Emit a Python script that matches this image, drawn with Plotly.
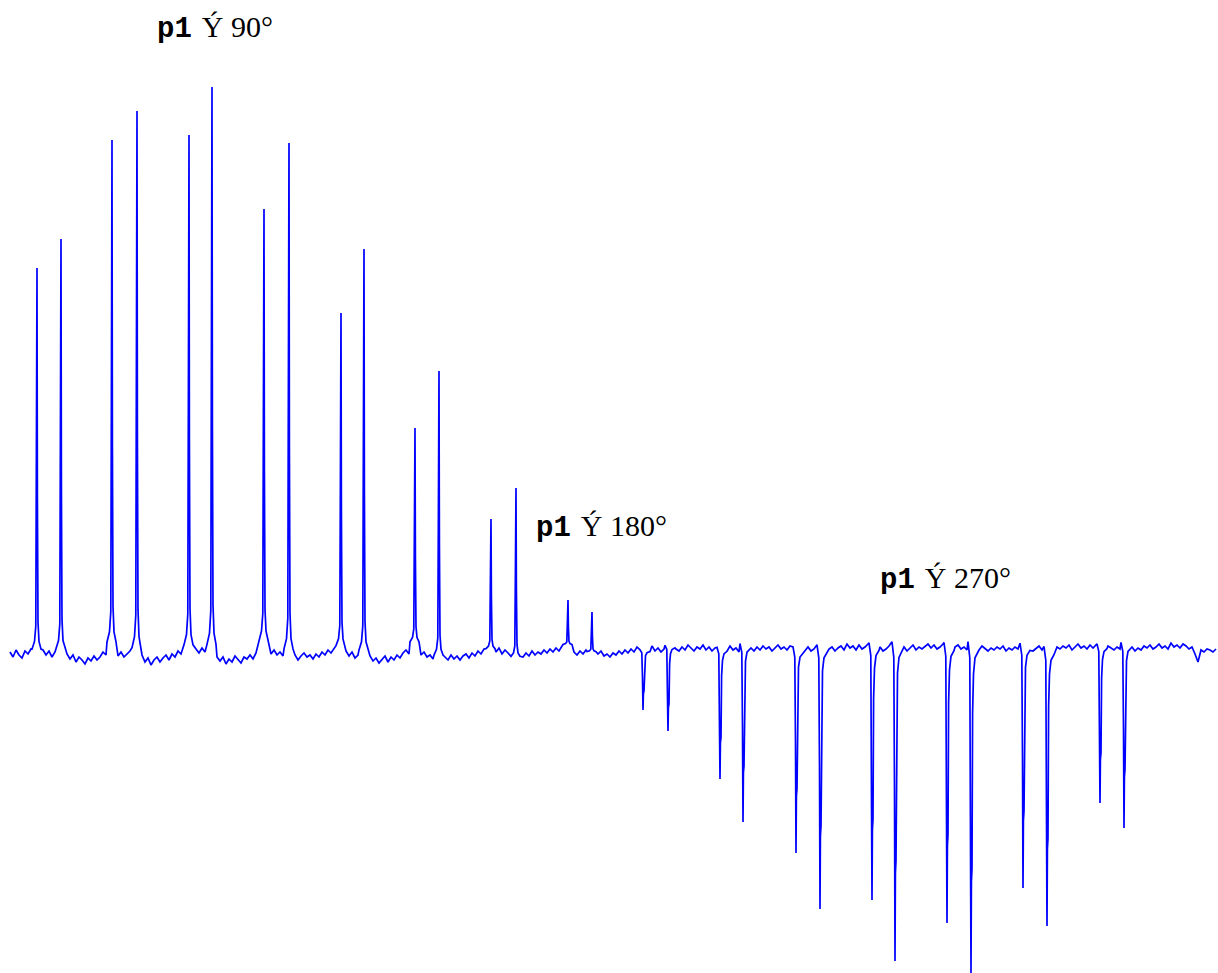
import numpy as np
import plotly.graph_objects as go

# ---------------- data ----------------
# baseline noise samples (intensity units), starting at point 10, every 3 points
BASE_X0 = 10
BASE_STEP = 3
baseline_noise = [
    1, -4, 3, -2, -5, 2, -1, 4, -3, 0,
    6, 3, -2, 2, -4, 1, -3, 0, 3, -1,
    -6, -2, -9, -4, -7, -11, -5, -8, -3, -7,
    -4, 1, -2, 4, 6, 2, -3, 1, -4, -1,
    2, -3, 0, -6, -2, -9, -5, -12, -7, -4,
    -9, -5, -2, -7, -1, -4, 2, -1, 5, 8,
    3, -1, 4, 0, 5, 1, -2, 3, -1, -4,
    -8, -4, -11, -6, -9, -3, -7, -10, -4, -6,
    -2, -6, 0, 4, 2, 9, 6, -1, 3, -2,
    1, -3, 2, -1, -5, -2, -7, -3, 0, -4,
    -2, -6, -1, -4, 1, -2, 3, 0, 5, 8,
    4, -1, 2, -3, 1, -5, -2, 3, -1, -6,
    -3, -8, -5, -10, -6, -3, -9, -4, -7, -2,
    -5, 0, 3, -1, 6, 9, 2, -2, 1, -4,
    -2, -6, -1, -5, -9, -4, -7, -2, -6, -3,
    -7, -3, -1, -5, 0, -3, 2, -1, 4, 1,
    3, 6, 1, 5, -1, 3, 0, 4, -2, -5,
    -1, -4, 0, -3, 2, -2, 1, -1, 3, 0,
    4, 1, 5, 2, 7, 3, 8, 5, 1, -2,
    2, -1, 3, 6, 1, 4, -1, 2, -3, -1,
    -4, 0, -2, 2, -1, 3, 0, 4, 1, 6,
    5, 2, 6, 3, 7, 2, 5, 1, 4, 6,
    3, 7, 4, 2, 6, 3, 8, 5, 2, 6,
    4, 8, 3, 6, 2, 5, 7, 3, 6, 4,
    7, 3, 5, 1, 6, 4, 8, 5, 2, 6,
    3, 7, 4, 6, 2, 5, 8, 4, 6, 3,
    7, 4, 2, 5, 8, 3, 6, 2, 4, 7,
    3, 5, 8, 4, 6, 2, 5, 7, 3, 9,
    5, 7, 3, 8, 4, 6, 9, 5, 7, 3,
    6, 2, 4, 7, 3, 5, 8, 4, 6, 2,
    5, 8, 3, 6, 4, 7, 9, 5, 8, 4,
    6, 9, 5, 7, 3, 6, 8, 4, 6, 3,
    5, 2, 6, 3, 7, 4, 2, 5, 3, 6,
    4, 7, 2, 5, 3, 6, 4, 8, 5, 3,
    6, 2, 5, 7, 3, 4, 1, 5, 3, 6,
    4, 7, 5, 8, 3, 6, 9, 5, 7, 4,
    8, 5, 9, 6, 10, 4, 7, 5, 3, 6,
    4, 7, 5, 3, 6, 2, 5, 3, 7, 5,
    8, 4, 6, 9, 5, 7, 4, 10, 6, 8,
    5, 9, 7, 4, 6, -1, -9, 3, 1, 4,
    3, 1, 4,
]

# positive peaks (p1 -> 90 deg side): centre point, height
pos_centers = [37, 61, 112, 137, 189, 212, 264, 289, 341, 364, 415, 439, 491, 516, 568, 592]
pos_heights = [385, 414, 513, 542, 518, 566, 444, 510, 340, 404, 225, 282, 134, 165, 53, 41]

# negative peaks (p1 -> 270 deg side): centre point, depth
neg_centers = [643, 668, 720, 743, 796, 820, 872, 895, 947, 971, 1023, 1047, 1100, 1124]
neg_depths = [57, 78, 126, 169, 200, 256, 247, 308, 270, 320, 235, 273, 150, 175]

# line-shape templates (offset in points, fraction of peak height)
pos_shape_dx = [-5, -2.5, -1.2, -0.6, -0.3, 0, 0.4, 1.0, 2.0, 4.0]
pos_shape_frac = [0.01, 0.03, 0.07, 0.5, 0.76, 1.0, 0.4, 0.08, 0.03, 0.01]
neg_shape_dx = [-3, -1.2, -0.5, 0, 0.4, 1.0, 1.6, 2.5, 4, 7]
neg_shape_frac = [-0.02, 0.03, 0.45, 1.0, 0.72, 0.68, 0.2, 0.08, 0.03, 0.01]

label_text = ["90°", "180°", "270°"]
label_x = [155, 534, 878]
label_y = [625, 126, 74]

# ---------------- build the trace ----------------
base_x = BASE_X0 + BASE_STEP * np.arange(len(baseline_noise))
base_y = np.array(baseline_noise, dtype=float)
keep = np.ones(len(base_x), dtype=bool)
px, py = [], []


def add_peak(c, amp, dxs, fracs):
    lo, hi = c + min(dxs), c + max(dxs)
    keep[(base_x >= lo) & (base_x <= hi)] = False
    level = base_y[np.argmin(np.abs(base_x - c))]
    for dx, f in zip(dxs, fracs):
        px.append(c + dx)
        py.append(level + f * (amp - level))


for c, h in zip(pos_centers, pos_heights):
    add_peak(c, h, pos_shape_dx, pos_shape_frac)
for c, d in zip(neg_centers, neg_depths):
    add_peak(c, -d, neg_shape_dx, neg_shape_frac)

x = np.concatenate([base_x[keep], np.array(px)])
y = np.concatenate([base_y[keep], np.array(py)])
order = np.argsort(x, kind="stable")
x, y = x[order], y[order]

fig = go.Figure()
fig.add_trace(go.Scatter(x=x, y=y, mode="lines",
                         line=dict(color="#0000ff", width=1.7),
                         hoverinfo="skip", showlegend=False))

for t, lx, ly in zip(label_text, label_x, label_y):
    fig.add_annotation(
        x=lx, y=ly, xref="x", yref="y", xanchor="left", yanchor="middle",
        showarrow=False,
        text="<span style='font-family:\"Liberation Mono\", \"Courier New\", monospace; font-size:29px'><b>p1</b></span>\u2004Ý " + t,
        font=dict(family="Liberation Serif, Times New Roman, serif", size=30, color="black"),
    )

fig.update_layout(
    width=1218, height=973,
    margin=dict(l=0, r=0, t=0, b=0),
    paper_bgcolor="white", plot_bgcolor="white",
    xaxis=dict(range=[0, 1218], visible=False, fixedrange=True),
    yaxis=dict(range=[-320, 653], visible=False, fixedrange=True),
)

fig.write_html("out.html")
